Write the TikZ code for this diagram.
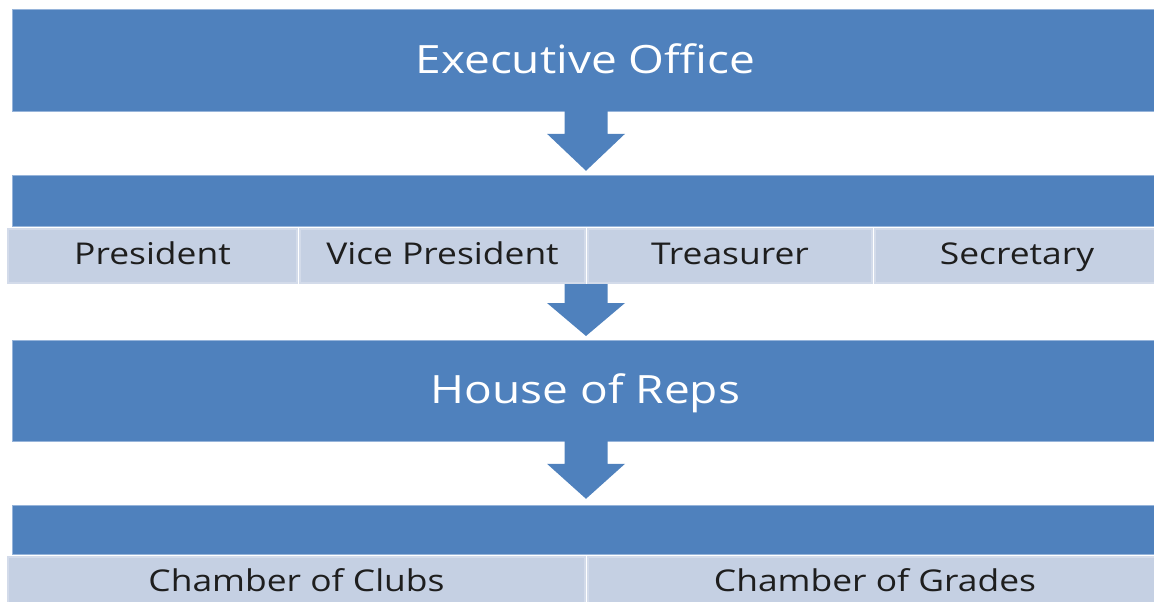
\documentclass[tikz,border=0pt]{standalone}
\usepackage{fontspec}
\setmainfont[FakeStretch=1.18]{Open Sans}
\usepackage{tikz}
\usetikzlibrary{positioning}
\definecolor{barblue}{RGB}{79,129,189}
\definecolor{baredge}{RGB}{150,180,218}
\definecolor{cellfill}{RGB}{197,208,227}
\definecolor{celledge}{RGB}{211,219,234}
\definecolor{celltext}{RGB}{30,30,30}
\tikzset{
    bar/.style={fill=barblue, draw=baredge, line width=.8pt, anchor=north west,
        minimum width=1146pt, text=white, font=\fontsize{39}{41}\selectfont,
        inner sep=0pt, text height=30pt, text depth=4pt},
    cell/.style={fill=cellfill, draw=celledge, line width=2pt, anchor=north west,
        minimum height=54pt, text=celltext, font=\fontsize{30}{32}\selectfont,
        inner sep=0pt, text height=24pt, text depth=8pt},
    blockarrow/.style={fill=barblue}
}

\begin{document}
\begin{tikzpicture}[x=1pt, y=-1pt]
    \useasboundingbox (0, 0) rectangle (1154, 602);
    % bars
    \node[bar, minimum height=102pt] (exec) at (12, 9) {Executive Office};
    \node[bar, minimum height=51pt] (officers) at (12, 175) {};
    \node[bar, minimum height=101pt] (house) at (12, 340) {House of Reps};
    \node[bar, minimum height=49pt] (chambers) at (12, 505) {};
    % officer cells
    \node[cell, minimum width=289pt] (pres) at (7, 228) {President};
    \node[cell, minimum width=285pt] (vice) at (299, 228) {Vice President};
    \node[cell, minimum width=284pt] (treas) at (587, 228) {Treasurer};
    \node[cell, minimum width=284pt] (secr) at (874, 228) {Secretary};
    % chamber cells
    \node[cell, minimum width=577pt, minimum height=52pt] (clubs) at (7, 556) {Chamber of Clubs};
    \node[cell, minimum width=574pt, minimum height=52pt] (grades) at (587, 556) {Chamber of Grades};
    % arrows
    \fill[blockarrow, shift={(exec.south -| vice.east)}](-21.5, -1)--(-21.5, 22)--(-39, 22)--(0, 59)--(39, 22)--(21.5, 22)--(21.5, -1)--cycle;
    \fill[blockarrow, shift={(vice.south east)}](-21.5, 0)--(-21.5, 19)--(-39, 19)--(0, 52)--(39, 19)--(21.5, 19)--(21.5, 0)--cycle;
    \fill[blockarrow, shift={(house.south -| vice.east)}](-21.5, -1)--(-21.5, 22)--(-39, 22)--(0, 57)--(39, 22)--(21.5, 22)--(21.5, -1)--cycle;
\end{tikzpicture}
\end{document}
